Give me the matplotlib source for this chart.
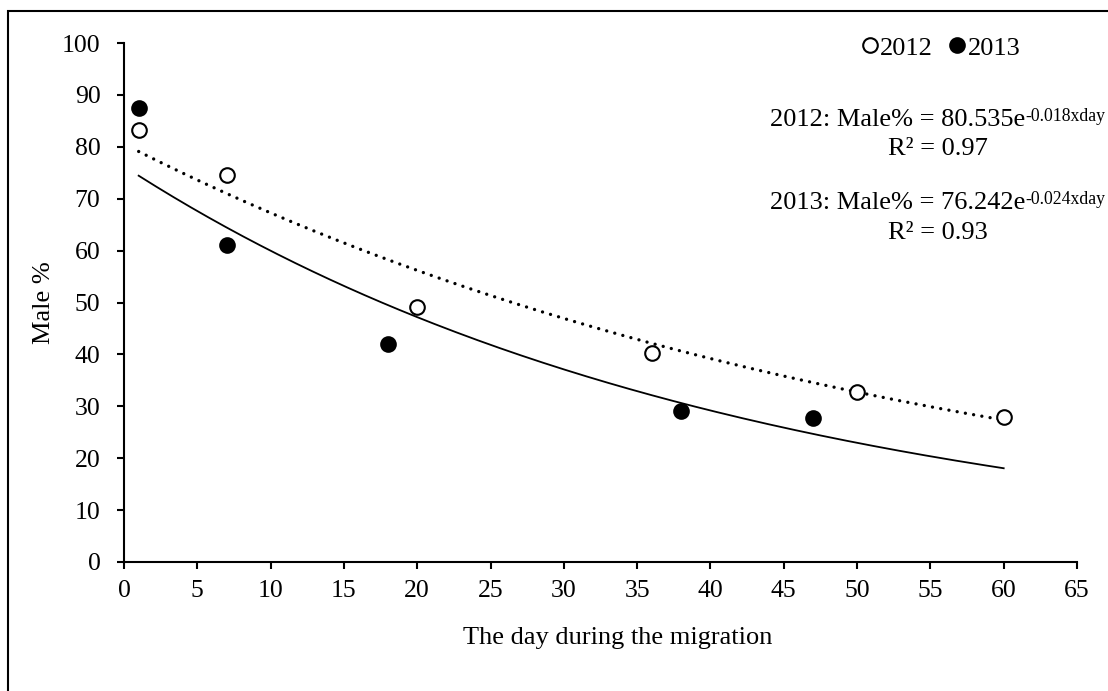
import matplotlib.pyplot as plt
import numpy as np
from matplotlib.patches import Rectangle

# observed male share per sampling day
days_2012 = [1, 7, 20, 36, 50, 60]
male_2012 = [83.3, 74.5, 49.1, 40.2, 32.8, 28.0]
days_2013 = [1, 7, 18, 38, 47]
male_2013 = [87.5, 61.1, 42.1, 29.0, 27.8]

# exponential trend coefficients as printed on the chart
fit_2012 = (80.535, -0.018)
fit_2013 = (76.242, -0.024)
r2_2012 = 0.97
r2_2013 = 0.93

plt.rcParams['font.family'] = ['Liberation Serif', 'DejaVu Serif']
plt.rcParams['font.size'] = 19

W, H = 1108, 691
fig = plt.figure(figsize=(W/100, H/100), dpi=100)
ax = fig.add_axes([124/W, 1 - 562/H, 953/W, 519/H])

# outer frame (cut off at right and bottom)
fig.patches.append(Rectangle((8/W, -0.2), 1.2, 1.2 - 11/H, transform=fig.transFigure,
                             fill=False, lw=1.5, ec='black'))

x_fit = np.linspace(1, 60, 200)
ax.plot(x_fit, fit_2012[0]*np.exp(fit_2012[1]*x_fit), color='black', lw=2.4,
        linestyle=(0, (0.01, 2.5)), dash_capstyle='round')
ax.plot(x_fit, fit_2013[0]*np.exp(fit_2013[1]*x_fit), color='black', lw=1.3)

ax.plot(days_2012, male_2012, 'o', ms=10.5, mfc='white', mec='black', mew=1.5, label='2012', zorder=3)
ax.plot(days_2013, male_2013, 'o', ms=10.5, mfc='black', mec='black', mew=1.5, label='2013', zorder=3)

ax.set_xlim(0, 65)
ax.set_ylim(0, 100)
ax.set_xticks(range(0, 66, 5))
ax.set_yticks(range(0, 101, 10))
for s in ['top', 'right']:
    ax.spines[s].set_visible(False)
for s in ['left', 'bottom']:
    ax.spines[s].set_linewidth(1.5)
ax.tick_params(direction='out', length=5, width=1.5, labelsize=18.5)
ax.tick_params(axis='y', pad=12)
ax.tick_params(axis='x', pad=8)
ax.set_xlabel('The day during the migration')
ax.xaxis.set_label_coords((618 - 124)/953, (562 - 627)/519)
ax.set_ylabel('Male %')
ax.yaxis.set_label_coords((55 - 124)/953, 0.5)

ax.legend(loc='center', bbox_to_anchor=(937/W, 1 - 48/H), bbox_transform=fig.transFigure,
          ncol=2, frameon=False, handletextpad=-0.2, columnspacing=0.3, handlelength=1.2,
          borderpad=0, borderaxespad=0)

# equations
def equation(year, a, b, r2, y_line, y_r2):
    t = fig.text(770/W, 1 - y_line/H, f'{year}: Male% = {a:.3f}e', va='center', ha='left')
    ax.annotate(f'{b:.3f}xday', xy=(1, 1), xycoords=t, va='top', ha='left',
                fontsize=12.8, xytext=(0, 1), textcoords='offset points')
    fig.text(938/W, 1 - y_r2/H, f'R² = {r2:.2f}', va='center', ha='center')

equation(2012, fit_2012[0], fit_2012[1], r2_2012, 120, 149)
equation(2013, fit_2013[0], fit_2013[1], r2_2013, 203, 233)

fig.savefig('out.png', dpi=100)
